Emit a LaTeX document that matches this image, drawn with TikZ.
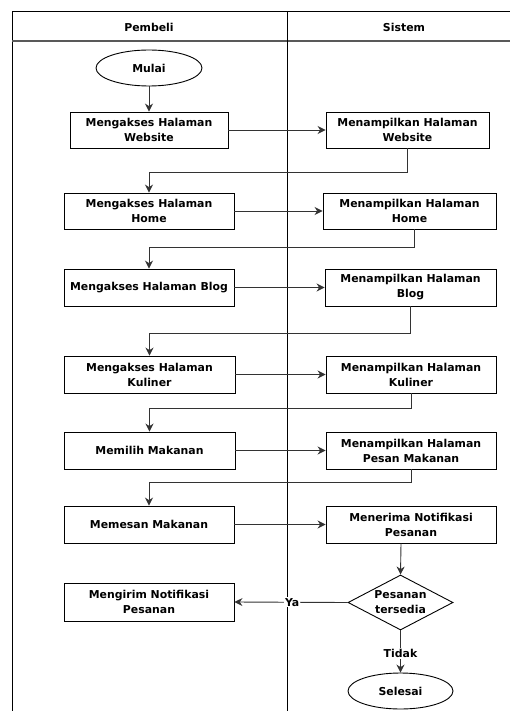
\documentclass[tikz,border=0pt]{standalone}
\usepackage{fontspec}
\setmainfont{DejaVu Sans}
\usetikzlibrary{shapes.geometric,arrows.meta}
\begin{document}
\begin{tikzpicture}[x=1pt,y=-1pt,
  every node/.style={font=\bfseries\fontsize{10.9}{15}\selectfont, align=center, text=black},
  lane/.style={line width=1pt, draw=black},
  stepbox/.style={draw=black, line width=0.9pt, rectangle, minimum height=36pt, inner sep=1pt},
  terminal/.style={draw=black, line width=0.9pt, ellipse, minimum width=106pt, minimum height=36pt, inner sep=0pt},
  choice/.style={draw=black, line width=0.9pt, diamond, aspect=1.9, inner sep=0pt, minimum width=105pt, minimum height=55pt},
  flow/.style={draw=black!80, line width=0.9pt, -{Stealth[length=8pt,width=8pt]}},
  tag/.style={fill=white, inner sep=1pt}
]
\useasboundingbox (0,0) rectangle (510,711);

% swimlane frame
\draw[lane] (12,711) -- (12,12) -- (510,12);
\draw[lane, draw=black!65, line width=1.3pt] (12,41) -- (510,41);
\draw[lane] (287,12) -- (287,711);
\node (hpembeli) at (149,27) {Pembeli};
\node (hsistem) at (404,27) {Sistem};

% Pembeli lane
\node[terminal] (mulai) at (149,68) {Mulai};
\node[stepbox, minimum width=158pt] (a1) at (149,130) {Mengakses Halaman\\Website};
\node[stepbox, minimum width=170pt] (a2) at (149,211) {Mengakses Halaman\\Home};
\node[stepbox, minimum width=170pt, minimum height=37pt] (a3) at (149,287.5) {Mengakses Halaman Blog};
\node[stepbox, minimum width=171pt, minimum height=37pt] (a4) at (149.5,374.5) {Mengakses Halaman\\Kuliner};
\node[stepbox, minimum width=171pt, minimum height=37pt] (a5) at (149.5,450.5) {Memilih Makanan};
\node[stepbox, minimum width=170pt, minimum height=37pt] (a6) at (149,524.5) {Memesan Makanan};
\node[stepbox, minimum width=170pt, minimum height=38pt] (a7) at (149,602) {Mengirim Notifikasi\\Pesanan};

% Sistem lane
\node[stepbox, minimum width=163pt] (s1) at (407.5,130) {Menampilkan Halaman\\Website};
\node[stepbox, minimum width=173pt] (s2) at (409.5,211) {Menampilkan Halaman\\Home};
\node[stepbox, minimum width=171pt, minimum height=37pt] (s3) at (410.5,287.5) {Menampilkan Halaman\\Blog};
\node[stepbox, minimum width=170pt, minimum height=37pt] (s4) at (411,374.5) {Menampilkan Halaman\\Kuliner};
\node[stepbox, minimum width=170pt, minimum height=37pt] (s5) at (411,450.5) {Menampilkan Halaman\\Pesan Makanan};
\node[stepbox, minimum width=170pt, minimum height=37pt] (s6) at (411,524.5) {Menerima Notifikasi\\Pesanan};
\node[choice] (cek) at (400.5,602.5) {Pesanan\\tersedia};
\node[terminal, minimum width=105pt] (selesai) at (400.5,691) {Selesai};

% connectors
\draw[flow] (mulai) -- (a1);
\draw[flow] (a1) -- (s1);
\draw[flow] (s1.south) -- (s1.south |- 0,172) -| (a2.north);
\draw[flow] (a2) -- (s2);
\draw[flow] ([xshift=5pt]s2.south) -- ([xshift=5pt]s2.south |- 0,247) -| (a3.north);
\draw[flow] (a3) -- (s3);
\draw[flow] (s3.south) -- (s3.south |- 0,333) -| (a4.north);
\draw[flow] (a4) -- (s4);
\draw[flow] (s4.south) -- (s4.south |- 0,408) -| (a5.north);
\draw[flow] (a5) -- (s5);
\draw[flow] (s5.south) -- (s5.south |- 0,482) -| (a6.north);
\draw[flow] (a6) -- (s6);
\draw[flow] ([xshift=-10pt]s6.south) -- (cek.north);
\draw[flow] (cek.west) -- node[tag, pos=0.49] (ya) {Ya} (a7.east);
\draw[flow] (cek.south) -- node[tag, pos=0.55] (tidak) {Tidak} (selesai.north);
\end{tikzpicture}
\end{document}
